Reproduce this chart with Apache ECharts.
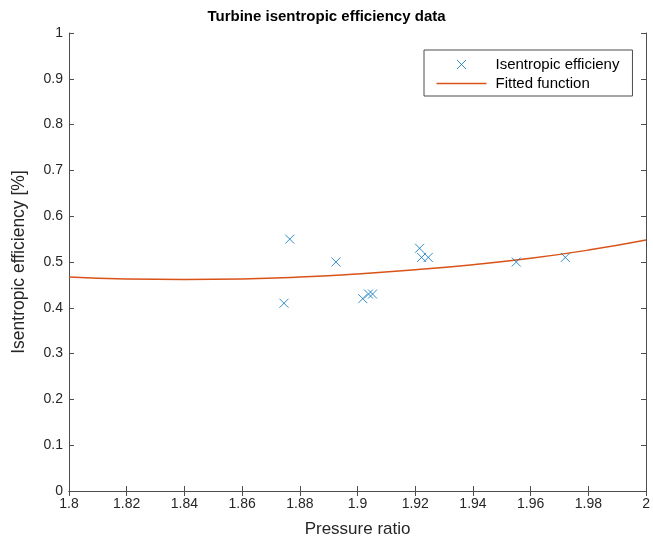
<!DOCTYPE html>
<html><head><meta charset="utf-8">
<script src="https://cdn.jsdelivr.net/npm/echarts@6/dist/echarts.min.js"></script>
<style>html,body{margin:0;padding:0;background:#fff}#c{width:653px;height:543px}</style>
</head><body><div id="c"></div>
<script>
const measX = [1.8745, 1.8765, 1.8925, 1.9018, 1.9038, 1.9052, 1.9215, 1.9222, 1.9245, 1.955, 1.972];
const measY = [0.41, 0.55, 0.50, 0.42, 0.43, 0.43, 0.53, 0.51, 0.51, 0.50, 0.51];
const fitX = [1.80, 1.82, 1.84, 1.86, 1.88, 1.90, 1.92, 1.94, 1.96, 1.98, 2.00];
const fitY = [0.467, 0.463, 0.462, 0.463, 0.467, 0.474, 0.483, 0.494, 0.508, 0.526, 0.548];
const xTicks = [1.8, 1.82, 1.84, 1.86, 1.88, 1.9, 1.92, 1.94, 1.96, 1.98, 2];
const yTicks = [0, 0.1, 0.2, 0.3, 0.4, 0.5, 0.6, 0.7, 0.8, 0.9, 1];

const FONT = 'Liberation Sans, Arial, sans-serif';
const AX = '#262626';
const cross = 'path://M0,0L10,10M10,0L0,10';
const legendCross = 'path://M0,0M50,14M20.5,2.5L29.5,11.5M29.5,2.5L20.5,11.5';
const chart = echarts.init(document.getElementById('c'), null, {renderer: 'canvas'});
const axCommon = {
  axisLine: {show: true, lineStyle: {color: '#4d4d4d', width: 1}},
  axisTick: {show: true, inside: true, length: 5, lineStyle: {color: '#4d4d4d'}},
  splitLine: {show: false}
};
chart.setOption({
  animation: false,
  title: {text: 'Turbine isentropic efficiency data', left: 'center', top: 4,
    textStyle: {fontFamily: FONT, fontSize: 15, fontWeight: 'bold', color: '#000'}},
  grid: {left: 69, right: 6, top: 33, bottom: 52},
  legend: {
    orient: 'vertical', left: 424, top: 50,
    backgroundColor: '#fff', borderColor: '#4d4d4d', borderWidth: 1,
    padding: [5, 13, 5, 10], itemGap: 2, itemWidth: 50, itemHeight: 14,
    textStyle: {fontFamily: FONT, fontSize: 15, color: '#000', padding: [0, 0, 0, 4]},
    data: [
      {name: 'Isentropic efficieny', icon: legendCross, itemStyle: {color: 'none', borderColor: '#0072BD', borderWidth: 1}},
      {name: 'Fitted function', icon: 'path://M0,0L50,0L50,1.5L0,1.5Z', itemStyle: {color: '#D95319'}}
    ]
  },
  xAxis: [
    Object.assign({type: 'value', min: 1.8, max: 2, interval: 0.02, position: 'bottom',
      name: 'Pressure ratio', nameLocation: 'middle', nameGap: 30,
      nameTextStyle: {fontFamily: FONT, fontSize: 17, color: AX},
      axisLabel: {fontFamily: FONT, fontSize: 14, color: AX, margin: 6,
        formatter: v => { const t = xTicks.find(k => Math.abs(k - v) < 1e-9); return t === undefined ? '' : String(t); }}
    }, axCommon),
    Object.assign({type: 'value', min: 1.8, max: 2, interval: 0.02, position: 'top', axisLabel: {show: false}}, axCommon)
  ],
  yAxis: [
    Object.assign({type: 'value', min: 0, max: 1, interval: 0.1, position: 'left',
      name: 'Isentropic efficiency [%]', nameLocation: 'middle', nameGap: 41,
      nameTextStyle: {fontFamily: FONT, fontSize: 17.5, color: AX},
      axisLabel: {fontFamily: FONT, fontSize: 14, color: AX, margin: 6,
        formatter: v => { const t = yTicks.find(k => Math.abs(k - v) < 1e-9); return t === undefined ? '' : String(t); }}
    }, axCommon),
    Object.assign({type: 'value', min: 0, max: 1, interval: 0.1, position: 'right', axisLabel: {show: false}}, axCommon)
  ],
  series: [
    {name: 'Isentropic efficieny', type: 'scatter', symbol: cross, symbolSize: 9,
      itemStyle: {color: 'none', borderColor: '#0072BD', borderWidth: 1},
      data: measX.map((x, i) => [x, measY[i]]), z: 3},
    {name: 'Fitted function', type: 'line', smooth: true, showSymbol: false,
      lineStyle: {color: '#D95319', width: 1.5}, itemStyle: {color: '#D95319'},
      data: fitX.map((x, i) => [x, fitY[i]]), z: 2}
  ]
});
</script></body></html>
